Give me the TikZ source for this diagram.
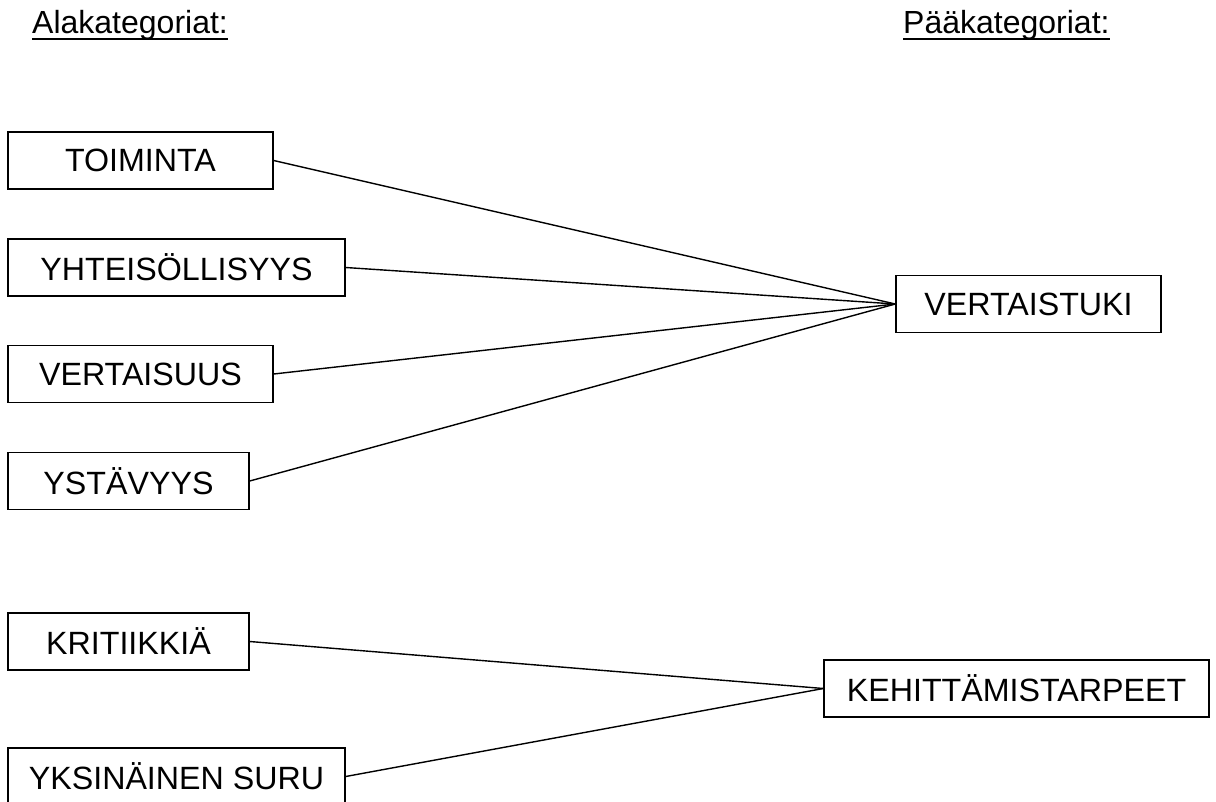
\documentclass[tikz,border=0pt]{standalone}
\usepackage{fontspec}
\setmainfont{Liberation Sans}
\begin{document}
\begin{tikzpicture}[x=1pt,y=-1pt,
  catbox/.style={draw=black, line width=1.4pt, inner sep=0pt, minimum height=57pt,
    font=\fontsize{32.2}{38}\selectfont, anchor=center},
  heading/.style={inner sep=0pt, anchor=base west, font=\fontsize{32}{38}\selectfont},
  link/.style={draw=black, line width=1.4pt}]
\useasboundingbox (0,0) rectangle (1216,801);
\clip (0,0) rectangle (1216,801);
% headings
\node[heading] (hala) at (32,33) {Alakategoriat:};
\node[heading] (hpaa) at (903,33) {Pääkategoriat:};
\draw[line width=2pt] ([yshift=-6pt]hala.base west) -- ([yshift=-6pt]hala.base east);
\draw[line width=2pt] ([yshift=-6pt]hpaa.base west) -- ([yshift=-6pt]hpaa.base east);
% sub-categories
\node[catbox, minimum width=265pt] (toim) at (140.5,160.5) {TOIMINTA};
\node[catbox, minimum width=337pt] (yht) at (176.5,267.5) {YHTEISÖLLISYYS};
\node[catbox, minimum width=265pt] (vert) at (140.5,374) {VERTAISUUS};
\node[catbox, minimum width=241pt] (yst) at (128.5,481) {YSTÄVYYS};
\node[catbox, minimum width=241pt] (krit) at (128.5,641.5) {KRITIIKKIÄ};
\node[catbox, minimum width=337pt] (yks) at (176.5,776.5) {YKSINÄINEN SURU};
% main categories
\node[catbox, minimum width=265pt] (vtuki) at (1028.5,304) {VERTAISTUKI};
\node[catbox, minimum width=385pt] (keh) at (1016.5,688.5) {KEHITTÄMISTARPEET};
% connectors
\draw[link] (toim.east) -- (vtuki.west);
\draw[link] (yht.east) -- (vtuki.west);
\draw[link] (vert.east) -- (vtuki.west);
\draw[link] (yst.east) -- (vtuki.west);
\draw[link] (krit.east) -- (keh.west);
\draw[link] (yks.east) -- (keh.west);
\end{tikzpicture}
\end{document}
